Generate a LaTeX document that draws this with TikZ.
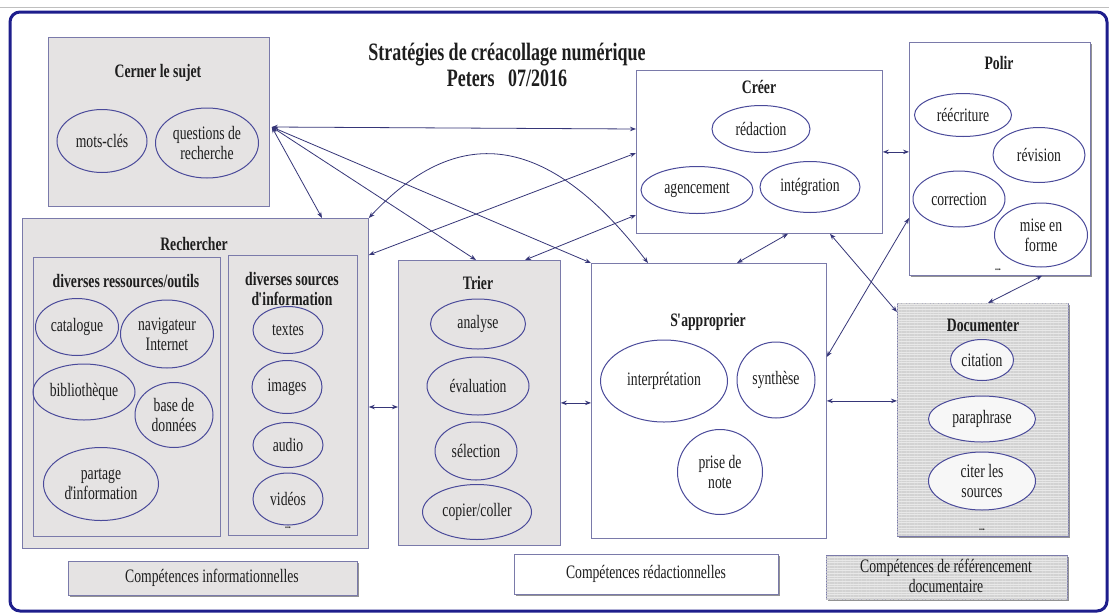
\documentclass[tikz,border=0pt]{standalone}
\usepackage{fontspec}
\setmainfont{Liberation Serif}[FakeStretch=0.72]
\usetikzlibrary{arrows.meta,calc,shapes.geometric,shadows,patterns.meta}
\definecolor{frameblue}{HTML}{1E1E8C}
\definecolor{boxgray}{HTML}{E5E3E3}
\definecolor{boxline}{HTML}{7A7AAA}
\definecolor{ellline}{HTML}{4A4A9A}
\definecolor{arrowcol}{HTML}{363678}
\definecolor{txt}{HTML}{1E1E1E}
\definecolor{docgray}{HTML}{E8E8E8}
\newcommand{\apos}{\kern-0.8pt\textquotesingle\kern-1.2pt}
\tikzset{
  box/.style={draw=boxline, line width=0.8pt, inner sep=0pt, anchor=north west},
  graybox/.style={box, fill=boxgray},
  whitebox/.style={box, fill=white},
  shadowbox/.style={drop shadow={shadow xshift=1.5pt, shadow yshift=-1.5pt, fill=black!70, opacity=0.6}},
  docfill/.style={fill=docgray, postaction={pattern color=gray!35, pattern={Lines[angle=0,distance=1.6pt,line width=0.3pt]}}},
  el/.style={ellipse, draw=ellline, line width=1pt, inner sep=0pt, align=center,
    font=\fontsize{19}{20}\selectfont, text=txt},
  hd/.style={font=\bfseries\fontsize{19}{20}\selectfont, align=center, text=txt, inner sep=0pt},
  lg/.style={font=\fontsize{19}{20}\selectfont, align=center, text=txt, inner sep=0pt},
  dotsn/.style={font=\bfseries\fontsize{11}{11}\selectfont, text=txt, inner sep=0pt},
  conn/.style={draw=arrowcol, line width=0.8pt, {Stealth[length=6pt,width=4.5pt]}-{Stealth[length=6pt,width=4.5pt]}}
}
\begin{document}
\begin{tikzpicture}[x=1pt,y=-1pt]
\useasboundingbox (0,0) rectangle (1109,614);
\fill[white] (0,0) rectangle (1109,614);
\draw[gray!50, line width=0.6pt] (0,7) -- (1109,7);
\draw[frameblue, line width=3pt, rounded corners=10pt] (10,12) rectangle (1107,611);

% title
\node[font=\bfseries\fontsize{25}{26}\selectfont, align=center, text=txt, inner sep=0pt] (title) at (507,65)
  {Stratégies de créacollage numérique\\Peters\ \ \ 07/2016};

% Cerner le sujet
\node[graybox, minimum width=221pt, minimum height=169pt] (cerner) at (48,37) {};
\node[hd] (cernerT) at (158,73) {Cerner le sujet};
\node[el, minimum width=90pt, minimum height=63pt] (motscles) at (102,141) {mots-clés};
\node[el, minimum width=103pt, minimum height=70pt] (questions) at (207,143) {questions de\\recherche};

% Rechercher
\node[graybox, minimum width=346pt, minimum height=330pt] (rech) at (22,218) {};
\node[hd] (rechT) at (194,244) {Rechercher};
\node[graybox, minimum width=187pt, minimum height=279pt] (outils) at (33,257) {};
\node[hd] (outilsT) at (126,281) {diverses ressources/outils};
\node[graybox, minimum width=129pt, minimum height=280pt] (sources) at (228,255) {};
\node[hd] (sourcesT) at (292,289) {diverses sources\\d\apos information};
\node[el, minimum width=83pt, minimum height=57pt] (catalogue) at (77,327) {catalogue};
\node[el, minimum width=93pt, minimum height=68pt] (navig) at (167,334) {navigateur\\Internet};
\node[el, minimum width=102pt, minimum height=56pt] (biblio) at (84,392) {bibliothèque};
\node[el, minimum width=78pt, minimum height=65pt] (bdd) at (174,415) {base de\\données};
\node[el, minimum width=115pt, minimum height=73pt] (partage) at (101,484) {partage\\d\apos information};
\node[el, minimum width=70pt, minimum height=47pt] (textes) at (288,330) {textes};
\node[el, minimum width=70pt, minimum height=53pt] (images) at (287,387) {images};
\node[el, minimum width=70pt, minimum height=45pt] (audio) at (288,445) {audio};
\node[el, minimum width=70pt, minimum height=52pt] (videos) at (288,499) {vidéos};
\node[dotsn] (sourcesdots) at (288,528) {...};

% Trier
\node[graybox, minimum width=162pt, minimum height=285pt] (trier) at (398,260) {};
\node[hd] (trierT) at (478,283) {Trier};
\node[el, minimum width=95pt, minimum height=50pt] (analyse) at (478,324) {analyse};
\node[el, minimum width=102pt, minimum height=58pt] (evaluation) at (478,386) {évaluation};
\node[el, minimum width=82pt, minimum height=58pt] (selection) at (476,451) {sélection};
\node[el, minimum width=109pt, minimum height=55pt] (copier) at (477,512) {copier/coller};

% S'approprier
\node[whitebox, minimum width=235pt, minimum height=275pt] (sapp) at (591,263) {};
\node[hd] (sappT) at (708,322) {S\apos approprier};
\node[el, minimum width=127pt, minimum height=82pt] (interp) at (664,381) {interprétation};
\node[el, minimum width=78pt, minimum height=76pt] (synthese) at (776,380) {synthèse};
\node[el, minimum width=85pt, minimum height=85pt] (prise) at (720,472) {prise de\\note};

% Créer
\node[whitebox, minimum width=246pt, minimum height=163pt] (creer) at (636,70) {};
\node[hd] (creerT) at (759,87) {Créer};
\node[el, minimum width=98pt, minimum height=47pt] (redaction) at (761,129) {rédaction};
\node[el, minimum width=112pt, minimum height=47pt] (agencement) at (697,190) {agencement};
\node[el, minimum width=100pt, minimum height=51pt] (integration) at (810,187) {intégration};

% Polir
\node[whitebox, shadowbox, minimum width=181pt, minimum height=233pt] (polir) at (909,42) {};
\node[hd] (polirT) at (999,63) {Polir};
\node[el, minimum width=97pt, minimum height=43pt] (reecriture) at (963,115) {réécriture};
\node[el, minimum width=92pt, minimum height=55pt] (revision) at (1039,155) {révision};
\node[el, minimum width=92pt, minimum height=56pt] (correction) at (959,199) {correction};
\node[el, minimum width=93pt, minimum height=64pt] (miseenforme) at (1041,235) {mise en\\forme};
\node[dotsn] (polirdots) at (998,270) {...};

% Documenter
\node[box, shadowbox, docfill, minimum width=171pt, minimum height=233pt] (doc) at (897,303) {};
\node[hd] (docT) at (983,325) {Documenter};
\node[el, fill=white!94!gray, minimum width=63pt, minimum height=41pt] (citation) at (982,360) {citation};
\node[el, fill=white!94!gray, minimum width=107pt, minimum height=46pt] (paraphrase) at (982,419) {paraphrase};
\node[el, fill=white!94!gray, minimum width=107pt, minimum height=58pt] (citer) at (982,481) {citer les\\sources};
\node[dotsn] (docdots) at (982,530) {...};

% Legends
\node[graybox, shadowbox, minimum width=289pt, minimum height=34pt] (leg1) at (68,561) {};
\node[lg] (leg1T) at (212,578) {Compétences informationnelles};
\node[whitebox, shadowbox, minimum width=264pt, minimum height=40pt] (leg2) at (514,554) {};
\node[lg] (leg2T) at (646,574) {Compétences rédactionnelles};
\node[box, shadowbox, docfill, minimum width=241pt, minimum height=44pt] (leg3) at (826,555) {};
\node[lg] (leg3T) at (946,576) {Compétences de référencement\\documentaire};

% connectors
\coordinate (cc) at ($(cerner.north east)+(2,90)$);
\coordinate (rechR) at ($(rech.north east)+(0,189)$);
\draw[conn] (cc) -- ($(creer.north west)+(0,59)$);
\draw[conn] (cc) -- ($(rech.north west)+(300,0)$);
\draw[conn] (cc) -- ($(trier.north west)+(78,0)$);
\draw[conn] (cc) -- (sapp.north west);
\draw[conn] (rech.north east) .. controls (462,118) and (552,138) .. ($(sapp.north west)+(57,0)$);
\draw[conn] ($(rech.north east)+(0,37)$) -- ($(creer.north west)+(0,83)$);
\draw[conn] ($(trier.north west)+(127,0)$) -- ($(creer.north west)+(0,145)$);
\draw[conn] ($(creer.south west)+(152,0)$) -- ($(sapp.north west)+(146,0)$);
\draw[conn] ($(creer.south west)+(194,0)$) -- ($(doc.north west)+(0,9)$);
\draw[conn] ($(polir.north west)+(0,176)$) -- ($(sapp.north east)+(0,94)$);
\draw[conn] ($(polir.south west)+(133,0)$) -- ($(doc.north west)+(91,0)$);
\draw[conn] (creer.east) -- (creer.east -| polir.west);
\draw[conn] (rechR) -- (rechR -| trier.west);
\draw[conn] (trier.east) -- (trier.east -| sapp.west);
\draw[conn] (sapp.east) -- (sapp.east -| doc.west);
\end{tikzpicture}
\end{document}
